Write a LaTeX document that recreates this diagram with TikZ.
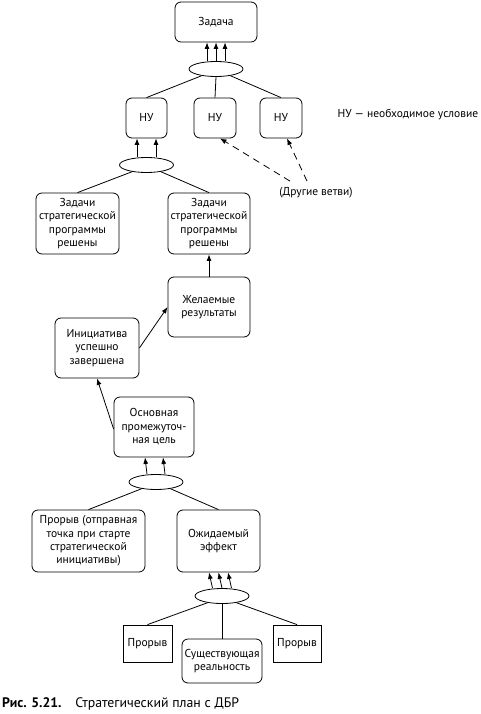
\documentclass[tikz,border=0pt]{standalone}
\usepackage{fontspec}
\setmainfont{PT Sans}
\usetikzlibrary{shapes.geometric,arrows.meta}

\begin{document}
\begin{tikzpicture}[x=1pt,y=-1pt,font=\fontsize{11.5}{13.4}\selectfont,
   box/.style={draw,thick,rounded corners=6pt,align=center,inner sep=0pt},
   plain/.style={draw,thick,align=center,inner sep=0pt},
   andnode/.style={draw,thick,ellipse,inner sep=0pt,minimum width=54pt,minimum height=15pt},
   arr/.style={thick,-{Latex[length=6.5pt,width=5pt]}},
   link/.style={thick}]
   \useasboundingbox (0,0) rectangle (480,714);

   \node[box,minimum width=82pt,minimum height=40pt] (task) at (216,22) {Задача};
   \node[andnode] (j1) at (216,69) {};
   \node[box,minimum width=41pt,minimum height=40pt] (nu1) at (146.5,118) {НУ};
   \node[box,minimum width=42pt,minimum height=40pt] (nu2) at (215,118) {НУ};
   \node[box,minimum width=42pt,minimum height=40pt] (nu3) at (281,118) {НУ};
   \node[anchor=west] (legend) at (334,115) {НУ — необходимое условие};
   \node (other) at (316,193) {(Другие ветви)};

   \node[andnode] (j2) at (146.5,165) {};
   \node[box,minimum width=83pt,minimum height=61pt] (prog1) at (77.5,223.5) {Задачи\\стратегической\\программы\\решены};
   \node[box,minimum width=82pt,minimum height=61pt] (prog2) at (209,223.5) {Задачи\\стратегической\\программы\\решены};
   \node[box,minimum width=82pt,minimum height=60pt] (result) at (209,307) {Желаемые\\результаты};
   \node[box,minimum width=84pt,minimum height=60pt] (init) at (97,348) {Инициатива\\успешно\\завершена};
   \node[box,minimum width=80pt,minimum height=60pt] (goal) at (154,427) {Основная\\промежуточ-\\ная цель};

   \node[andnode] (j3) at (156,482) {};
   \node[box,minimum width=113pt,minimum height=62pt] (start) at (88.5,541) {Прорыв (отправная\\точка при старте\\стратегической\\инициативы)};
   \node[box,minimum width=83pt,minimum height=62pt] (effect) at (218.5,541) {Ожидаемый\\эффект};

   \node[andnode] (j4) at (222,596) {};
   \node[plain,minimum width=49pt,minimum height=37pt] (break1) at (147.5,643.5) {Прорыв};
   \node[box,minimum width=80pt,minimum height=44pt] (real) at (222,661) {Существующая\\реальность};
   \node[plain,minimum width=48pt,minimum height=37pt] (break2) at (297,643.5) {Прорыв};

   \node[anchor=west,inner sep=0pt,font=\fontsize{13.8}{16}\selectfont] (caption) at (2,704) {\textbf{Рис. 5.21.}\hspace{1em}Стратегический план с ДБР};

   \foreach \d in {-9,0,9} \draw[arr] ([xshift=\d pt]j1.north) -- ([xshift=\d pt]task.south);
   \draw[link] (j1.205) -- (nu1.north);
   \draw[link] (j1.south) -- (nu2.north);
   \draw[link] (j1.335) -- (nu3.north);
   \foreach \d in {-9.5,9.5} \draw[arr] ([xshift=\d pt]j2.north) -- ([xshift=\d pt]nu1.south);
   \draw[link] (j2.205) -- (prog1.north);
   \draw[link] (j2.335) -- (prog2.north);
   \draw[arr] (result.north) -- (prog2.south);
   \draw[arr] (init.east) -- (result.west);
   \draw[arr] ([yshift=-2pt]goal.west) -- (init.south);
   \foreach \d in {-9,9} \draw[arr] ([xshift=\d pt]j3.north) -- ([xshift=\d pt]goal.south);
   \draw[link] (j3.205) -- (start.north);
   \draw[link] (j3.335) -- (effect.north);
   \foreach \d in {-9.5,0,9.5} \draw[arr] ([xshift=\d pt]j4.north) -- ([xshift=\d pt]effect.south);
   \draw[link] (j4.205) -- (break1.north);
   \draw[link] (j4.south) -- (real.north);
   \draw[link] (j4.335) -- (break2.north);
   \draw[arr,dash pattern=on 7pt off 5pt] ([xshift=-26pt,yshift=3pt]other.north) -- ([xshift=5pt]nu2.south);
   \draw[arr,dash pattern=on 7pt off 5pt] ([xshift=-9pt,yshift=3pt]other.north) -- ([xshift=6pt]nu3.south);
\end{tikzpicture}
\end{document}
